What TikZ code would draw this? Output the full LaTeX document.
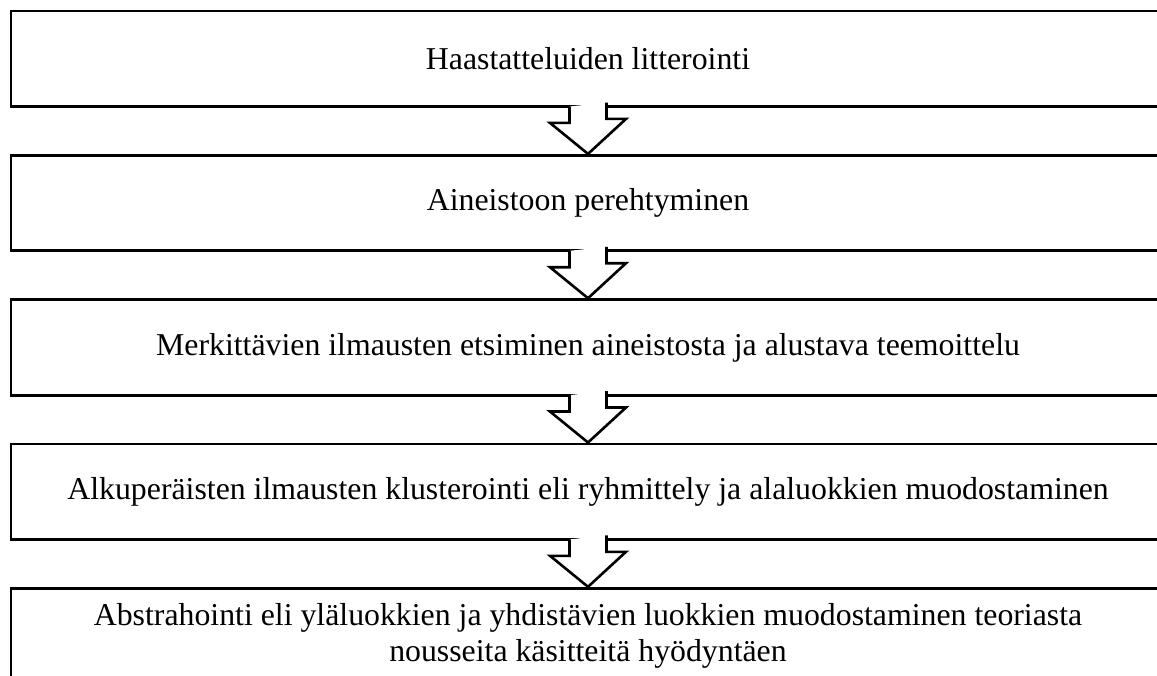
\documentclass[tikz,border=0pt]{standalone}
\usepackage{fontspec}
\setmainfont{Liberation Serif}
\usetikzlibrary{calc}

\tikzset{
  stage/.style={draw, line width=2.8pt, minimum width=1154pt, minimum height=95.5pt,
    align=center, font=\fontsize{31.8}{36}\selectfont, inner sep=0pt},
  flowarrow/.style={draw, fill=white, line width=2.6pt, miter limit=10}
}

\begin{document}
\begin{tikzpicture}
  \useasboundingbox (0,0) rectangle (1157pt,-675pt);
  \clip (0,0) rectangle (1157pt,-675pt);
  \node[stage] (s1) at (588pt, -58.75pt) {Haastatteluiden litterointi};
  \node[stage] (s2) at (588pt, -203.05pt) {Aineistoon perehtyminen};
  \node[stage] (s3) at (588pt, -347.35pt) {Merkittävien ilmausten etsiminen aineistosta ja alustava teemoittelu};
  \node[stage] (s4) at (588pt, -491.65pt) {Alkuperäisten ilmausten klusterointi eli ryhmittely ja alaluokkien muodostaminen};
  \node[stage] (s5) at (588pt, -635.95pt) {Abstrahointi eli yläluokkien ja yhdistävien luokkien muodostaminen teoriasta\\nousseita käsitteitä hyödyntäen};
  \foreach \a/\b in {s1/s2, s2/s3, s3/s4, s4/s5}
    \path[flowarrow] ($(\a.south)+(-18.5pt,1.4pt)$) -- ++(0,-16.4pt) -- ++(-19.5pt,0)
      -- (\b.north) -- ++(38pt,35pt) -- ++(-19.5pt,0) -- ++(0,16.4pt);
\end{tikzpicture}
\end{document}
